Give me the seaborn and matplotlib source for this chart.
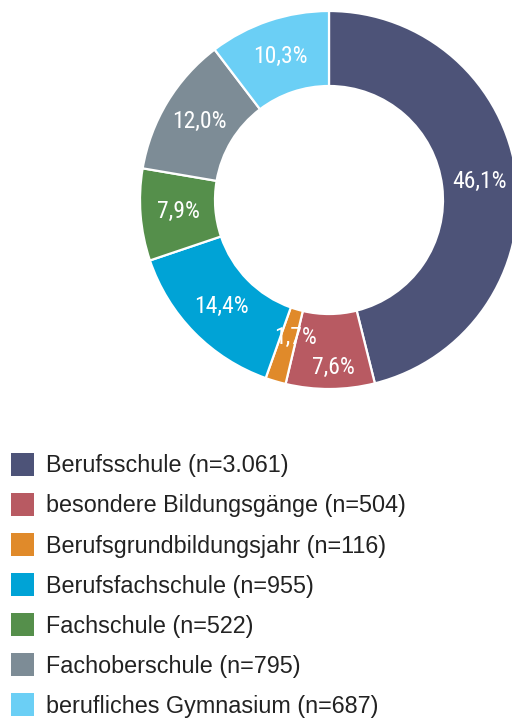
import numpy as np
import matplotlib
matplotlib.use("Agg")
import matplotlib.pyplot as plt
import matplotlib.patches as mpatches
import seaborn as sns

schools = ["Berufsschule", "besondere Bildungsgänge", "Berufsgrundbildungsjahr",
           "Berufsfachschule", "Fachschule", "Fachoberschule", "berufliches Gymnasium"]
counts = [3061, 504, 116, 955, 522, 795, 687]
count_labels = ["3.061", "504", "116", "955", "522", "795", "687"]
colors = ["#4d5378", "#b85a62", "#e08a2a", "#00a3d6", "#558f4b", "#7d8c96", "#6bcff5"]

sns.set_theme(style="white")
plt.rcParams['font.family'] = ['Liberation Sans', 'DejaVu Sans']

fig = plt.figure(figsize=(5.12, 7.18), dpi=100)
ax = fig.add_axes([0, 0, 1, 1])

# work in pixel coordinates, y up
cx, cy, R = 329, 718 - 200, 189
palette = sns.color_palette(colors)
wedges, texts, autotexts = ax.pie(
    counts,
    colors=palette,
    startangle=90,
    counterclock=False,
    center=(cx, cy),
    radius=R,
    wedgeprops=dict(width=75, edgecolor="white", linewidth=1.6),
    autopct=lambda p: f"{p:.1f}%".replace(".", ","),
    pctdistance=0.80,
    textprops=dict(color="white", fontsize=17, fontweight="normal",
                   family=['Roboto Condensed', 'Archivo Narrow', 'Liberation Sans',
                           'DejaVu Sans']),
)
# nudge the two labels at the bottom
autotexts[1].set_position((cx + 4, cy - 167))
autotexts[2].set_position((cx - 34, cy - 137))

ax.set_xlim(0, 512)
ax.set_ylim(0, 718)
ax.set_aspect("equal")
ax.axis("off")

handles = [mpatches.Patch(facecolor=c, edgecolor="none") for c in palette]
leg_labels = [f"{s} (n={c})" for s, c in zip(schools, count_labels)]
ax.legend(handles, leg_labels, loc="upper left",
          bbox_to_anchor=(11 / 512, 1 - 453 / 718),
          frameon=False, fontsize=16.8, handlelength=0.99, handleheight=1.14,
          handletextpad=0.51, labelspacing=0.67, borderaxespad=0, borderpad=0,
          labelcolor="#222222")

fig.savefig("out.png", dpi=100)
